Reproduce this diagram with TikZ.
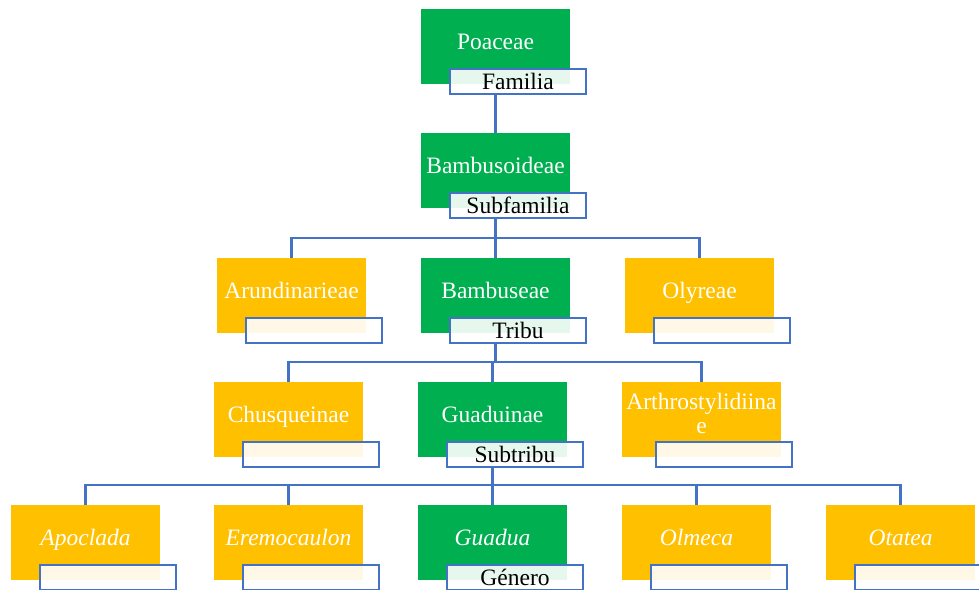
\documentclass[tikz,border=0pt]{standalone}
\usepackage{fontspec}
\setmainfont{Liberation Serif}
\usetikzlibrary{positioning}
\definecolor{boxgreen}{HTML}{00B050}
\definecolor{boxgold}{HTML}{FFC000}
\definecolor{lineblue}{HTML}{4472C4}
\tikzset{
  taxon/.style={anchor=north west, minimum width=149pt, minimum height=75pt,
    inner sep=0pt, outer sep=0pt, text=white, text height=17pt, text depth=11pt},
  greenbox/.style={taxon, fill=boxgreen},
  goldbox/.style={taxon, fill=boxgold},
  rankbox/.style={draw=lineblue, line width=2.4pt, fill=white, fill opacity=0.9,
    text opacity=1, text=black, minimum width=135.6pt, minimum height=24.6pt, inner sep=0pt},
  link/.style={draw=lineblue, line width=2.4pt}
}
\begin{document}
\begin{tikzpicture}[x=1pt,y=-1pt,font=\fontsize{23.5}{24}\selectfont]
\useasboundingbox (0,0) rectangle (979,589);
\coordinate (bus3) at (0,238);
\coordinate (bus4) at (0,362);
\coordinate (bus5) at (0,485);
% familia
\node[greenbox] (poaceae) at (421,9) {Poaceae};
\node[rankbox, below right=59pt and 28pt of poaceae.north west] (poaceae-r) {Familia};
% subfamilia
\node[greenbox] (bambusoideae) at (421,133) {Bambusoideae};
\node[rankbox, below right=59pt and 28pt of bambusoideae.north west] (bambusoideae-r) {Subfamilia};
% tribu
\node[goldbox] (arundinarieae) at (217,258) {Arundinarieae};
\node[rankbox, below right=59pt and 28pt of arundinarieae.north west] (arundinarieae-r) {};
\node[greenbox] (bambuseae) at (421,258) {Bambuseae};
\node[rankbox, below right=59pt and 28pt of bambuseae.north west] (bambuseae-r) {Tribu};
\node[goldbox] (olyreae) at (625,258) {Olyreae};
\node[rankbox, below right=59pt and 28pt of olyreae.north west] (olyreae-r) {};
% subtribu
\node[goldbox] (chusqueinae) at (214,382) {Chusqueinae};
\node[rankbox, below right=59pt and 28pt of chusqueinae.north west] (chusqueinae-r) {};
\node[greenbox] (guaduinae) at (418,382) {Guaduinae};
\node[rankbox, below right=59pt and 28pt of guaduinae.north west] (guaduinae-r) {Subtribu};
\node[goldbox, minimum width=159pt, text depth=38pt] (arthrostylidiinae) at (622,382)
  {\begin{tabular}[t]{@{}c@{}}Arthrostylidiina\\e\end{tabular}};
\node[rankbox, below right=59pt and 33pt of arthrostylidiinae.north west] (arthrostylidiinae-r) {};
% genero
\node[goldbox] (apoclada) at (11,505) {\textit{Apoclada}};
\node[rankbox, below right=59pt and 28pt of apoclada.north west] (apoclada-r) {};
\node[goldbox] (eremocaulon) at (214,505) {\textit{Eremocaulon}};
\node[rankbox, below right=59pt and 28pt of eremocaulon.north west] (eremocaulon-r) {};
\node[greenbox] (guadua) at (418,505) {\textit{Guadua}};
\node[rankbox, below right=59pt and 28pt of guadua.north west] (guadua-r) {Género};
\node[goldbox] (olmeca) at (622,505) {\textit{Olmeca}};
\node[rankbox, below right=59pt and 28pt of olmeca.north west] (olmeca-r) {};
\node[goldbox] (otatea) at (826,505) {\textit{Otatea}};
\node[rankbox, below right=59pt and 28pt of otatea.north west] (otatea-r) {};
% links
\draw[link] (poaceae.south |- poaceae-r.south) -- (bambusoideae.north);
\draw[link] (bambusoideae.south |- bambusoideae-r.south) -- (bambusoideae.south |- bus3);
\draw[link] (arundinarieae.north) |- (olyreae.north |- bus3) -- (olyreae.north);
\draw[link] (bambuseae.north) -- (bambuseae.north |- bus3);
\draw[link] (bambuseae.south |- bambuseae-r.south) -- (bambuseae.south |- bus4);
\draw[link] (chusqueinae.north) |- (arthrostylidiinae.north |- bus4) -- (arthrostylidiinae.north);
\draw[link] (guaduinae.north) -- (guaduinae.north |- bus4);
\draw[link] (guaduinae.south |- guaduinae-r.south) -- (guaduinae.south |- bus5);
\draw[link] (apoclada.north) |- (otatea.north |- bus5) -- (otatea.north);
\draw[link] (eremocaulon.north) -- (eremocaulon.north |- bus5);
\draw[link] (guadua.north) -- (guadua.north |- bus5);
\draw[link] (olmeca.north) -- (olmeca.north |- bus5);
\end{tikzpicture}
\end{document}
